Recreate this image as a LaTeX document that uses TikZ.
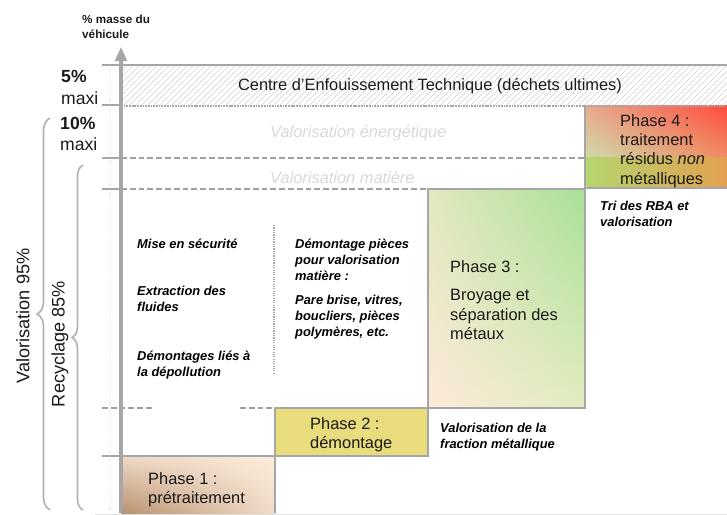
\documentclass[tikz,border=0pt]{standalone}
\usepackage{fontspec}
\setmainfont{Liberation Sans}
\usetikzlibrary{positioning,patterns.meta,decorations.pathreplacing,arrows.meta,shadings}

\definecolor{stairgray}{RGB}{166,166,166}
\definecolor{dashgray}{RGB}{160,160,160}
\definecolor{bracegray}{RGB}{178,178,178}
\definecolor{hatchgray}{RGB}{200,200,200}
\definecolor{faintgray}{RGB}{216,216,216}
\definecolor{textblack}{RGB}{26,26,26}
\definecolor{phasetwo}{RGB}{232,220,125}

\tikzset{
    stair/.style={draw=stairgray, line width=2.4pt},
    scaletick/.style={draw=stairgray, line width=1.6pt},
    bandline/.style={draw=dashgray, line width=1.4pt, dash pattern=on 5pt off 2.5pt},
    spanmark/.style={draw=gray!18, densely dotted, line width=0.8pt, {Stealth[length=3pt]}-{Stealth[length=3pt]}},
    phasetext/.style={anchor=north west, inner sep=0pt, align=left, text=textblack, font=\fontsize{14}{16.5}\selectfont},
    notetext/.style={anchor=north west, inner sep=0pt, align=left, font=\bfseries\itshape\fontsize{11}{13.7}\selectfont},
    faint/.style={anchor=west, inner sep=0pt, text=faintgray, font=\itshape\fontsize{14}{16}\selectfont},
    sidebrace/.style={draw=bracegray, line width=1.4pt, decorate, decoration={brace, amplitude=#1}},
    sidetext/.style={rotate=90, text=textblack, font=\fontsize{15.5}{18}\selectfont}
}

\begin{document}
\begin{tikzpicture}[x=0.03cm, y=-0.03cm]
        \useasboundingbox (0,0) rectangle (727,515);
        \path[pattern={Lines[angle=45, distance=4pt, line width=0.5pt]}, pattern color=hatchgray] (121,65) rectangle (727,105);
        \shade[upper left={rgb,255:red,232;green,170;blue,140}, upper right={rgb,255:red,255;green,75;blue,60}, lower left={rgb,255:red,205;green,220;blue,170}, lower right={rgb,255:red,240;green,140;blue,100}] (585,106) rectangle (727,158);
        \shade[left color={rgb,255:red,180;green,214;blue,110}, right color={rgb,255:red,228;green,160;blue,80}] (585,158) rectangle (727,188);
        \shade[upper left={rgb,255:red,226;green,232;blue,190}, upper right={rgb,255:red,168;green,224;blue,150}, lower left={rgb,255:red,253;green,233;blue,218}, lower right={rgb,255:red,225;green,236;blue,190}] (428,189) rectangle (585,408);
        \fill[phasetwo] (275,408) rectangle (428,456);
        \shade[upper left={rgb,255:red,238;green,217;blue,198}, upper right={rgb,255:red,253;green,236;blue,220}, lower left={rgb,255:red,185;green,145;blue,110}, lower right={rgb,255:red,240;green,220;blue,200}] (121,456) rectangle (275,513);

        \draw[draw=gray!25, line width=0.8pt] (95,514) -- (727,514);
        \draw[scaletick] (102,65) -- (727,65);
        \draw[draw=stairgray, line width=1.6pt, dash pattern=on 1.5pt off 0.8pt] (121,106) -- (727,106);
        \foreach \y in {105,158,189,456}
            \draw[scaletick] (102,\y) -- (121,\y);
        \draw[bandline] (121,158) -- (585,158);
        \draw[bandline] (121,189) -- (428,189);
        \draw[bandline] (102,408) -- (153,408);
        \draw[bandline] (240,408) -- (275,408);
        \draw[scaletick] (121,456) -- (275,456);

        \draw[stair] (275,513) -- (275,408) -- (428,408);
        \draw[stair] (275,456) -- (428,456) -- (428,189) -- (585,189);
        \draw[stair] (428,408) -- (585,408) -- (585,106);
        \draw[stair] (585,188) -- (727,188);
        \draw[draw=stairgray, densely dotted, line width=1pt] (274,225) -- (274,373);

        \foreach \a/\b in {67/103,107/156,160/187,191/406,410/454,458/511}
            \draw[spanmark] (110,\a) -- (110,\b);

        \coordinate (axisfoot) at (121,513);
        \coordinate (axistop) at (121,47);
        \draw[draw=stairgray, line width=2.6pt, -{Triangle[length=12pt, width=10pt]}] (axisfoot) -- (axistop);

        \node[anchor=north west, inner sep=0pt, align=left, text=textblack, font=\bfseries\fontsize{10}{12.8}\selectfont] (ylabel) at (82,15) {\% masse du\\véhicule};
        \node[anchor=north west, inner sep=0pt, align=left, text=textblack, font=\fontsize{15}{18}\selectfont] (cinq) at (61,70.5) {\textbf{5\%}\\maxi};
        \node[anchor=north west, inner sep=0pt, align=left, text=textblack, font=\fontsize{15}{18}\selectfont] (dix) at (60,116.5) {\textbf{10\%}\\maxi};

        \node[text=textblack, font=\fontsize{14}{16}\selectfont] (cet) at (430,86) {Centre d’Enfouissement Technique (déchets ultimes)};
        \node[faint] (energie) at (270,133) {Valorisation énergétique};
        \node[faint] (matiere) at (270,178) {Valorisation matière};

        \node[phasetext] (p1) at (148,472) {Phase 1 :\\prétraitement};
        \node[phasetext] (p2) at (310,417) {Phase 2 :\\démontage};
        \node[phasetext] (p3) at (450,260) {Phase 3 :\\[8pt]Broyage et\\séparation des\\métaux};
        \node[phasetext] (p4) at (620,114) {Phase 4 :\\traitement\\résidus \textit{non}\\métalliques};

        \node[notetext] (mise) at (137,238.5) {Mise en sécurité};
        \node[notetext] (fluides) at (137,285.5) {Extraction des\\fluides};
        \node[notetext] (depollution) at (137,350.5) {Démontages liés à\\la dépollution};
        \node[notetext] (pieces) at (295,238.5) {Démontage pièces\\pour valorisation\\matière :};
        \node[notetext, below=12pt of pieces.south west, anchor=north west] (exemples) {Pare brise, vitres,\\boucliers, pièces\\polymères, etc.};
        \node[notetext] (rba) at (600,200.5) {Tri des RBA et\\valorisation};
        \node[notetext] (metaux) at (440,422.5) {Valorisation de la\\fraction métallique};

        \draw[sidebrace=11pt] (50,510) -- (50,118);
        \draw[sidebrace=9.4pt] (83,510) -- (83,165);
        \node[sidetext] (valo) at (23,316) {Valorisation 95\%};
        \node[sidetext] (recy) at (60,344) {Recyclage 85\%};
\end{tikzpicture}
\end{document}
